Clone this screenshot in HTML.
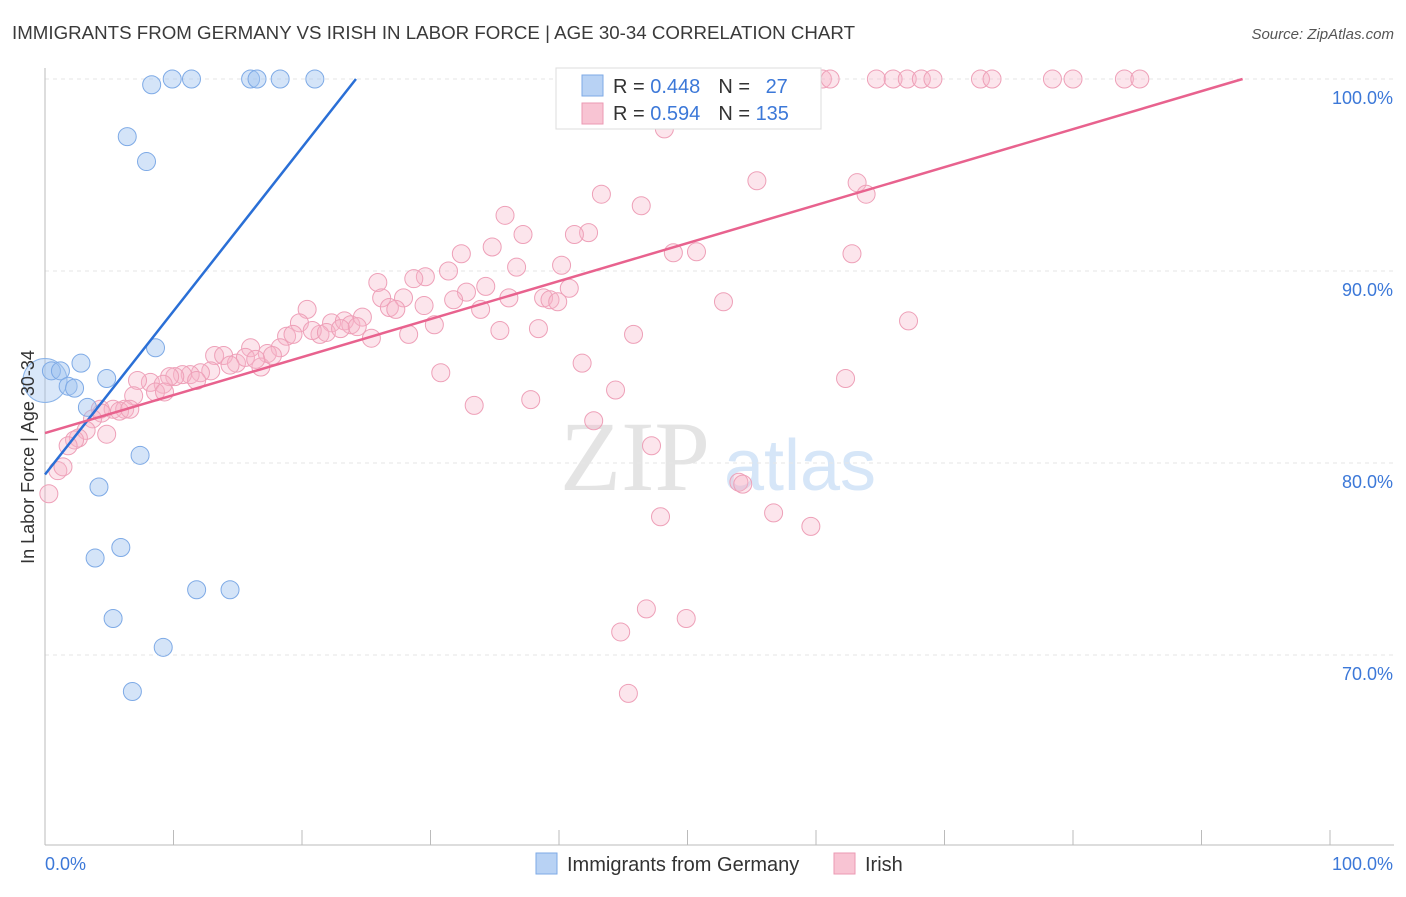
<!DOCTYPE html>
<html><head><meta charset="utf-8"><style>
body{margin:0;background:#fff;font-family:"Liberation Sans",sans-serif;}
</style></head><body>
<svg width="1406" height="892" viewBox="0 0 1406 892" xmlns="http://www.w3.org/2000/svg" id="chart" style="font-family:'Liberation Sans',sans-serif">
<text x="12" y="39" font-size="18" fill="#3a3a3a" textLength="843" lengthAdjust="spacingAndGlyphs">IMMIGRANTS FROM GERMANY VS IRISH IN LABOR FORCE | AGE 30-34 CORRELATION CHART</text>
<text x="1394" y="39" font-size="15" fill="#555" text-anchor="end" font-style="italic">Source: ZipAtlas.com</text>
<g>
<text x="635" y="490" font-size="100" fill="#e4e4e4" text-anchor="middle" font-family="Liberation Serif,serif">ZIP</text>
<text x="800" y="490" font-size="72" fill="#d6e6f8" text-anchor="middle">atlas</text>
</g>
<g id="grid"></g>
<g id="axes"></g>
<g id="marks"></g>
<g>
<rect x="556" y="68" width="265" height="61" fill="#fff" stroke="#ddd"/>
<rect x="582" y="75" width="21" height="21" fill="#b8d2f4" stroke="#7eaae6"/>
<rect x="582" y="103" width="21" height="21" fill="#f8c4d3" stroke="#eb9ab3"/>
<text x="613" y="93" font-size="20" fill="#333">R = <tspan fill="#3c78d8">0.448</tspan><tspan dx="18">N = </tspan><tspan dx="10" fill="#3c78d8">27</tspan></text>
<text x="613" y="120" font-size="20" fill="#333">R = <tspan fill="#3c78d8">0.594</tspan><tspan dx="18">N = </tspan><tspan fill="#3c78d8">135</tspan></text>
</g>
<g>
<rect x="536" y="853" width="21" height="21" fill="#b8d2f4" stroke="#7eaae6"/>
<text x="567" y="871" font-size="20" fill="#333">Immigrants from Germany</text>
<rect x="834" y="853" width="21" height="21" fill="#f8c4d3" stroke="#eb9ab3"/>
<text x="865" y="871" font-size="20" fill="#333">Irish</text>
</g>
<text transform="translate(34,457) rotate(-90)" font-size="18" fill="#333" text-anchor="middle">In Labor Force | Age 30-34</text>
</svg>
<script>
const blueX=[8.3,9.9,11.4,16.0,16.5,18.3,21.0,6.4,7.9,8.6,2.8,0.5,1.2,4.8,1.8,2.3,3.3,7.4,4.2,5.9,3.9,11.8,14.4,5.3,9.2,6.8];
const blueY=[99.7,100,100,100,100,100,100,97.0,95.7,86.0,85.2,84.8,84.8,84.4,84.0,83.9,82.9,80.4,78.75,75.6,75.05,73.4,73.4,71.9,70.4,68.1];
const pinkX=[52.0,52.5,54.5,55.4,56.0,57.0,58.8,59.5,60.5,61.1,64.7,66.0,67.1,68.2,69.1,72.8,73.7,78.4,80.0,84.0,85.2,
48.2,43.3,55.4,63.2,63.9,46.4,35.8,37.2,42.3,41.2,32.4,34.8,48.9,50.7,62.8,36.7,40.2,31.4,29.6,28.7,25.9,34.3,26.2,27.9,32.8,36.1,40.8,38.8,39.3,39.9,52.8,20.4,26.8,27.3,29.5,31.8,33.9,19.8,22.3,23.3,23.8,24.7,21.4,20.8,21.9,23.0,24.3,25.4,30.3,35.4,38.4,28.3,45.8,67.2,18.8,19.3,18.3,17.3,16.0,13.2,13.9,14.9,16.8,17.7,15.6,14.4,16.4,12.9,12.1,11.3,10.7,10.1,9.7,11.8,8.2,9.2,7.2,8.6,9.3,6.9,41.8,30.8,62.3,44.4,37.8,33.4,4.3,5.3,6.2,4.4,5.8,6.6,3.7,42.7,3.2,2.6,2.3,4.8,1.8,47.2,1.0,1.4,0.3,54.0,54.3,47.9,56.7,59.6,46.8,49.9,44.8,45.4];
const pinkY=[100,100,100,100,100,100,100,100,100,100,100,100,100,100,100,100,100,100,100,100,100,
97.4,94.0,94.7,94.6,94.0,93.4,92.9,91.9,92.0,91.9,90.9,91.25,90.95,91.0,90.9,90.2,90.3,90.0,89.7,89.6,89.4,89.2,88.6,88.6,88.9,88.6,89.1,88.6,88.5,88.4,88.4,88.0,88.1,88.0,88.2,88.5,88.0,87.3,87.3,87.4,87.2,87.6,86.7,86.9,86.8,87.0,87.1,86.5,87.2,86.9,87.0,86.7,86.7,87.4,86.6,86.7,86.0,85.7,86.0,85.6,85.6,85.2,85.0,85.6,85.5,85.1,85.4,84.8,84.7,84.6,84.6,84.5,84.5,84.3,84.2,84.1,84.3,83.7,83.7,83.5,85.2,84.7,84.4,83.8,83.3,83.0,82.8,82.8,82.8,82.6,82.7,82.8,82.3,82.2,81.7,81.3,81.2,81.5,80.9,80.9,79.6,79.8,78.4,79.0,78.9,77.2,77.4,76.7,72.4,71.9,71.2,68.0];
const blueLine=[0,79.4,24.2,100];
const pinkLine=[0,81.56,93.2,100];
const yTicks=[100,90,80,70];
const yTickLabels=["100.0%","90.0%","80.0%","70.0%"];
const xTicks=[0,10,20,30,40,50,60,70,80,90,100];
const NS="http://www.w3.org/2000/svg";
const sx=v=>45+v*12.85, sy=v=>79+(100-v)*19.2;
function mk(t,a,p){const e=document.createElementNS(NS,t);for(const k in a)e.setAttribute(k,a[k]);p.appendChild(e);return e;}
const grid=document.getElementById('grid'),axes=document.getElementById('axes'),marks=document.getElementById('marks');
yTicks.forEach((v,i)=>{
 const l=mk('line',{x1:45,x2:1394,y1:sy(v),y2:sy(v),stroke:'#e6e6e6','stroke-dasharray':'4,4'},grid);
 
 
 const t=mk('text',{x:1393,y:sy(v)+25,'font-size':18,fill:'#3c78d8','text-anchor':'end'},axes);
 t.textContent=yTickLabels[i];
 
 
});
let a=mk('line',{x1:45,x2:45,y1:68,y2:845,stroke:'#bbb'},axes);


a=mk('line',{x1:45,x2:1394,y1:845,y2:845,stroke:'#bbb'},axes);


xTicks.forEach(v=>{const t=mk('line',{x1:sx(v),x2:sx(v),y1:830,y2:845,stroke:'#bbb'},axes);
 
 });
let xl=mk('text',{x:45,y:870,'font-size':18,fill:'#3c78d8'},axes);xl.textContent='0.0%';


xl=mk('text',{x:1393,y:870,'font-size':18,fill:'#3c78d8','text-anchor':'end'},axes);xl.textContent='100.0%';


const big=mk('circle',{cx:sx(0),cy:sy(84.3),r:22,fill:'rgba(160,195,240,0.4)',stroke:'#8ab3e8'},marks);


pinkX.forEach((x,i)=>{const c=mk('circle',{cx:sx(x),cy:sy(pinkY[i]),r:9,fill:'rgba(246,180,200,0.35)',stroke:'#ee a0b8'.replace(' ',''),'stroke-width':1},marks);
 
 });
blueX.forEach((x,i)=>{const c=mk('circle',{cx:sx(x),cy:sy(blueY[i]),r:9,fill:'rgba(160,195,240,0.45)',stroke:'#7eaae6','stroke-width':1},marks);
 
 });
let ln=mk('line',{x1:sx(blueLine[0]),y1:sy(blueLine[1]),x2:sx(blueLine[2]),y2:sy(blueLine[3]),stroke:'#2a6fd6','stroke-width':2.5},marks);


ln=mk('line',{x1:sx(pinkLine[0]),y1:sy(pinkLine[1]),x2:sx(pinkLine[2]),y2:sy(pinkLine[3]),stroke:'#e8628e','stroke-width':2.5},marks);


</script>
</body></html>
